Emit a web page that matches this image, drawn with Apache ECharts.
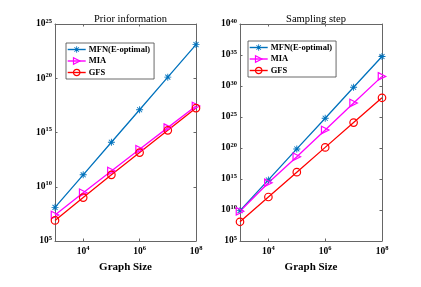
<!DOCTYPE html>
<html><head><meta charset="utf-8">
<script src="https://cdn.jsdelivr.net/npm/echarts@6/dist/echarts.min.js"></script>
<style>html,body{margin:0;padding:0;background:#fff}#c{width:421px;height:287px}</style>
</head><body><div id="c"></div>
<script>
// Graph sizes (x)
const graphSizes = [1e3, 1e4, 1e5, 1e6, 1e7, 1e8];
// Prior information (log10 of y)
const priorMFN = [8.1, 11.1, 14.1, 17.1, 20.1, 23.1];
const priorMIA = [7.4, 9.45, 11.45, 13.45, 15.45, 17.45];
const priorGFS = [6.9, 9.0, 11.1, 13.15, 15.2, 17.25];
// Sampling step (log10 of y)
const sampMFN = [9.9, 14.85, 19.85, 24.8, 29.8, 34.75];
const sampMIA = [9.8, 14.4, 18.6, 22.9, 27.25, 31.55];
const sampGFS = [8.1, 12.1, 16.1, 20.1, 24.1, 28.1];
const xTicks = [1e4, 1e6, 1e8];
const yTicksPrior = [1e5, 1e10, 1e15, 1e20, 1e25];
const yTicksSamp = [1e5, 1e10, 1e15, 1e20, 1e25, 1e30, 1e35, 1e40];
const seriesNames = ['MFN(E-optimal)', 'MIA', 'GFS'];
const titles = ['Prior information', 'Sampling step'];

const FONT = 'Liberation Serif';
const AX = '#666';
const blue = '#0072BD', mag = '#FF00FF', red = '#FF0000';
const asterisk = 'path://M0,4.35L10,4.35L10,5.65L0,5.65Z M4.35,0L5.65,0L5.65,10L4.35,10Z M1.0,1.9L1.9,1.0L9.0,8.1L8.1,9.0Z M8.1,1.0L9.0,1.9L1.9,9.0L1.0,8.1Z';
const triRight = 'path://M0,0L10,5L0,10Z';
const clear = 'rgba(255,255,255,0)';
const styles = [
  { symbol: asterisk, color: blue, fill: blue, bw: 0, size: 7 },
  { symbol: triRight, color: mag, fill: clear, bw: 1.2, size: 7.5 },
  { symbol: 'circle', color: red, fill: clear, bw: 1.2, size: 7.5 }
];

function pts(exps) { return graphSizes.map((x, i) => [x, Math.pow(10, exps[i])]); }
function fmt(v) {
  const e = Math.round(Math.log10(v));
  return '{b|10}{e|' + e + '}';
}
const rich = {
  b: { fontFamily: FONT, fontWeight: 'bold', fontSize: 9.5, color: '#000' },
  e: { fontFamily: FONT, fontWeight: 'bold', fontSize: 6.5, color: '#000', padding: [0, 0, 6, 0] }
};

function xAxes(gi) {
  return [
    { type: 'log', logBase: 10, gridIndex: gi, min: 1e3, max: 1e8, position: 'bottom',
      name: 'Graph Size', nameLocation: 'middle', nameGap: 19,
      nameTextStyle: { fontFamily: FONT, fontWeight: 'bold', fontSize: 11, color: '#000' },
      axisLine: { show: true, lineStyle: { color: AX, width: 1 } },
      axisTick: { show: true, inside: true, length: 2.5, customValues: xTicks, lineStyle: { color: AX } },
      minorTick: { show: false },
      axisLabel: { customValues: xTicks, formatter: fmt, rich: rich, margin: 4 },
      splitLine: { show: false } },
    { type: 'log', logBase: 10, gridIndex: gi, min: 1e3, max: 1e8, position: 'top',
      axisLine: { show: true, lineStyle: { color: AX, width: 1 } },
      axisTick: { show: true, inside: true, length: 2.5, customValues: xTicks, lineStyle: { color: AX } },
      axisLabel: { show: false }, splitLine: { show: false } }
  ];
}
function yAxes(gi, max, ticks) {
  return [
    { type: 'log', logBase: 10, gridIndex: gi, min: 1e5, max: max, position: 'left',
      axisLine: { show: true, lineStyle: { color: AX, width: 1 } },
      axisTick: { show: true, inside: true, length: 2.5, customValues: ticks, lineStyle: { color: AX } },
      axisLabel: { customValues: ticks, formatter: fmt, rich: rich, margin: 3 },
      splitLine: { show: false } },
    { type: 'log', logBase: 10, gridIndex: gi, min: 1e5, max: max, position: 'right',
      axisLine: { show: true, lineStyle: { color: AX, width: 1 } },
      axisTick: { show: true, inside: true, length: 2.5, customValues: ticks, lineStyle: { color: AX } },
      axisLabel: { show: false }, splitLine: { show: false } }
  ];
}
function mk(k, data, xi, yi) {
  const s = styles[k];
  return { name: seriesNames[k], type: 'line', xAxisIndex: xi, yAxisIndex: yi, data: data,
    symbol: s.symbol, symbolSize: s.size, animation: false, z: 3,
    lineStyle: { color: s.color, width: 1.3 },
    itemStyle: { color: s.fill, borderColor: s.color, borderWidth: s.bw } };
}
function legend(left, top) {
  return { orient: 'vertical', left: left, top: top,
    data: seriesNames.map((n, k) => ({ name: n,
      itemStyle: { color: styles[k].fill, borderColor: styles[k].color, borderWidth: styles[k].bw },
      lineStyle: { color: styles[k].color, width: 1.4 } })),
    backgroundColor: '#fff', borderColor: '#444', borderWidth: 0.8, padding: [2, 4, 2, 1],
    itemWidth: 18, itemHeight: 8, itemGap: 2.5, selectedMode: false,
    textStyle: { fontFamily: FONT, fontWeight: 'bold', fontSize: 8.5, color: '#000', padding: [0, 0, 0, -2] } };
}

const chart = echarts.init(document.getElementById('c'), null, { renderer: 'canvas' });
chart.setOption({
  animation: false,
  backgroundColor: '#fff',
  title: [
    { text: titles[0], left: 125.5, top: 9, textAlign: 'center',
      textStyle: { fontFamily: FONT, fontWeight: 'normal', fontSize: 10.5, color: '#000' } },
    { text: titles[1], left: 311, top: 9, textAlign: 'center',
      textStyle: { fontFamily: FONT, fontWeight: 'normal', fontSize: 10.5, color: '#000' } }
  ],
  legend: [legend(66, 43), legend(248, 41)],
  grid: [
    { left: 55, top: 24, width: 141, height: 217 },
    { left: 240, top: 24, width: 142, height: 217 }
  ],
  xAxis: xAxes(0).concat(xAxes(1)),
  yAxis: yAxes(0, 1e25, yTicksPrior).concat(yAxes(1, 1e40, yTicksSamp)),
  series: [
    mk(0, pts(priorMFN), 0, 0),
    mk(1, pts(priorMIA), 0, 0),
    mk(2, pts(priorGFS), 0, 0),
    mk(0, pts(sampMFN), 2, 2),
    mk(1, pts(sampMIA), 2, 2),
    mk(2, pts(sampGFS), 2, 2)
  ]
});
</script></body></html>
